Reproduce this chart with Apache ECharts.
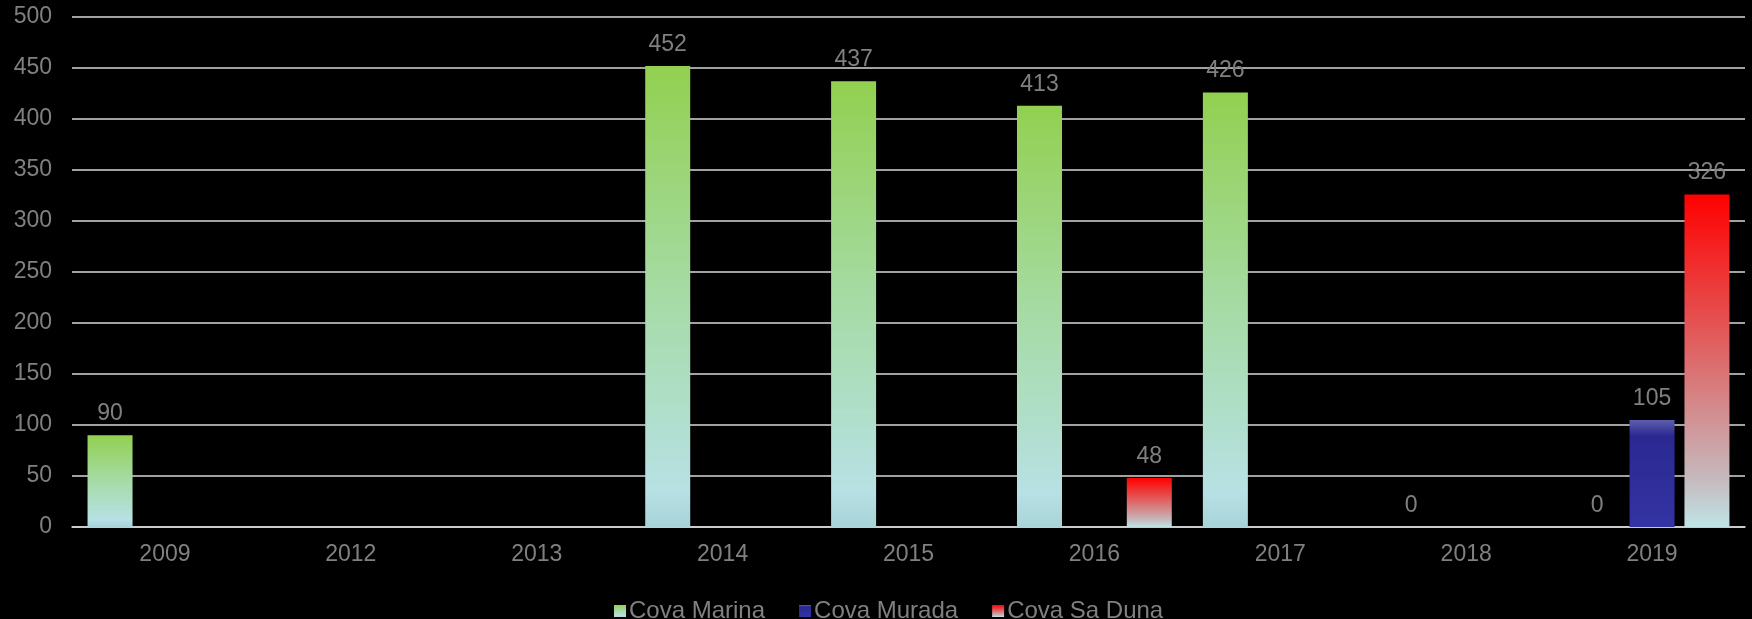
<!DOCTYPE html>
<html>
<head>
<meta charset="utf-8">
<script src="https://cdn.jsdelivr.net/npm/echarts@6/dist/echarts.min.js"></script>
<style>
html,body{margin:0;padding:0;background:#000;}
#c{width:1752px;height:619px;}
</style>
</head>
<body>
<div id="c"></div>
<script>
const categories = ['2009','2012','2013','2014','2015','2016','2017','2018','2019'];
const covaMarina = [90, null, null, 452, 437, 413, 426, 0, 0];
const covaMurada = [null, null, null, null, null, null, null, null, 105];
const covaSaDuna = [null, null, null, null, null, 48, null, null, 326];
const yTicks = {min: 0, max: 500, interval: 50};

const chart = echarts.init(document.getElementById('c'));
const font = '"Liberation Sans", Arial, sans-serif';
const grey = '#808080';
function grad(stops){
  return new echarts.graphic.LinearGradient(0,0,0,1, stops.map(s=>({offset:s[0], color:s[1]})));
}
const label = {show:true, position:'top', distance:10, color:grey, fontSize:23, fontFamily:font};
chart.setOption({
  backgroundColor:'#000',
  animation:false,
  grid:{left:72, right:7, top:17, bottom:92, containLabel:false},
  legend:{
    left:609, top:594, itemWidth:12, itemHeight:12, itemGap:34,
    icon:'rect',
    textStyle:{color:grey, fontSize:24, fontFamily:font, padding:[0,0,0,-2]},
    data:['Cova Marina','Cova Murada','Cova Sa Duna']
  },
  xAxis:{
    type:'category', data:categories,
    axisLine:{show:true, lineStyle:{color:'#d9d9d9', width:1.5}},
    axisTick:{show:false},
    axisLabel:{color:grey, fontSize:23, fontFamily:font, margin:16}
  },
  yAxis:{
    type:'value', min:yTicks.min, max:yTicks.max, interval:yTicks.interval,
    axisLine:{show:false}, axisTick:{show:false},
    splitLine:{lineStyle:{color:'#d9d9d9', width:1.5}},
    axisLabel:{color:grey, fontSize:23, fontFamily:font, margin:20}
  },
  series:[
    {name:'Cova Marina', type:'bar', data:covaMarina, barWidth:45, barGap:'22%',
     itemStyle:{color:grad([[0,'#92d050'],[0.5,'#a6dba6'],[0.92,'#b7e1e4'],[1,'#a8d3d8']])},
     label:label},
    {name:'Cova Murada', type:'bar', data:covaMurada, barWidth:45, barGap:'22%',
     itemStyle:{color:grad([[0,'#5d5fae'],[0.15,'#2a2890'],[1,'#3433a3']])},
     label:label},
    {name:'Cova Sa Duna', type:'bar', data:covaSaDuna, barWidth:45, barGap:'22%',
     itemStyle:{color:grad([[0,'#ff0000'],[0.45,'#e06060'],[0.85,'#c6b8bc'],[1,'#c0e4e6']])},
     label:label}
  ]
});
</script>
</body>
</html>
